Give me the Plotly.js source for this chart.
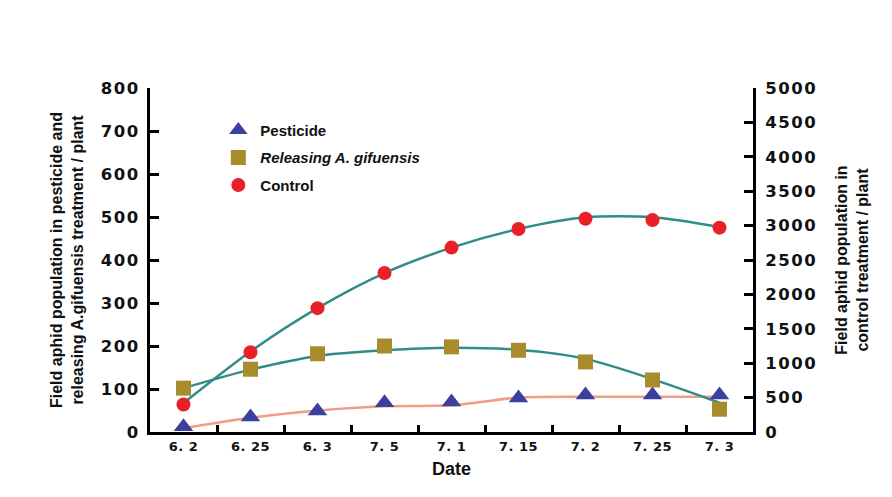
<!DOCTYPE html>
<html><head><meta charset="utf-8">
<script src="https://cdn.plot.ly/plotly-3.0.1.min.js"></script>
<style>
html,body{margin:0;padding:0;background:#fff}
#chart{width:892px;height:497px}
.yaxislayer-above text, .overaxes-above text{letter-spacing:1.5px}
.xaxislayer-above text{letter-spacing:0.5px}
</style>
</head><body><div id="chart"></div>
<script>
const dates = ["6. 2","6. 25","6. 3","7. 5","7. 1","7. 15","7. 2","7. 25","7. 3"];
// marker values
const pesticide = [12, 35, 49, 68, 70, 79, 86, 86, 86];
const releasing = [102, 146, 182, 200, 198, 190, 163, 121, 53];
const control = [400, 1160, 1800, 2310, 2680, 2950, 3100, 3080, 2970];
// fitted curve values
const pesticideCurve = [9, 33, 50, 60, 62, 80, 82, 82, 82];
const releasingCurve = [102, 145, 177, 190, 196, 191, 170, 123, 68];
const controlCurve = [420, 1170, 1800, 2310, 2680, 2950, 3120, 3120, 2980];

const tealLine = '#2f8d86';
const traces = [
  {x: dates, y: pesticideCurve, mode: 'lines', line: {color: '#f19c84', width: 2.5, shape: 'spline', smoothing: 0.8}, showlegend: false, hoverinfo: 'skip'},
  {x: dates, y: releasingCurve, mode: 'lines', line: {color: tealLine, width: 2.5, shape: 'spline', smoothing: 0.8}, showlegend: false, hoverinfo: 'skip'},
  {x: dates, y: controlCurve, yaxis: 'y2', mode: 'lines', line: {color: tealLine, width: 2.5, shape: 'spline', smoothing: 0.8}, showlegend: false, hoverinfo: 'skip'},
  {x: dates, y: pesticide, name: 'Pesticide', legendgroup: 'a', mode: 'markers', marker: {symbol: 'triangle-up', size: 17, color: '#3b3f9e'}},
  {x: dates, y: releasing, name: '<i>Releasing A. gifuensis</i>', legendgroup: 'b', mode: 'markers', marker: {symbol: 'square', size: 15, color: '#a88c2c'}},
  {x: dates, y: control, name: 'Control', legendgroup: 'c', yaxis: 'y2', mode: 'markers', marker: {symbol: 'circle', size: 14, color: '#e8202a'}}
];
const tickFont = {family: 'DejaVu Sans', size: 16.5, color: '#111', weight: 'bold'};
const layout = {
  width: 892, height: 497,
  margin: {l: 150, r: 139, t: 88, b: 65},
  paper_bgcolor: '#fff', plot_bgcolor: '#fff',
  showlegend: true,
  legend: {x: 0.11, y: 0.925, xanchor: 'left', yanchor: 'top', bgcolor: 'rgba(0,0,0,0)',
    font: {family: 'Liberation Sans', size: 15, color: '#111', weight: 'bold'}, tracegroupgap: 5, itemsizing: 'trace', itemwidth: 34},
  xaxis: {type: 'category', range: [-0.5, 8.5], showgrid: false, zeroline: false,
    showline: true, linecolor: '#000', linewidth: 3, mirror: false,
    ticks: 'inside', tickson: 'boundaries', ticklen: 7, tickwidth: 3, tickcolor: '#000',
    tickfont: {family: 'DejaVu Sans', size: 13, color: '#111', weight: 'bold'},
    title: {text: 'Date', font: {family: 'Liberation Sans Narrow, Liberation Sans', size: 18, color: '#111', weight: 'bold'}, standoff: 10}},
  yaxis: {range: [0, 800], dtick: 100, showgrid: false, zeroline: false,
    showline: true, linecolor: '#000', linewidth: 3,
    ticks: 'inside', ticklen: 9, tickwidth: 3, tickcolor: '#000', tickfont: tickFont, ticklabelstandoff: 4,
    title: {text: 'Field aphid population in pesticide and<br>releasing A.gifuensis treatment / plant',
      font: {family: 'Liberation Sans', size: 16, color: '#111', weight: 'bold'}, standoff: 18}},
  yaxis2: {range: [0, 5000], dtick: 500, overlaying: 'y', side: 'right', showgrid: false, zeroline: false,
    showline: true, linecolor: '#000', linewidth: 3,
    ticks: 'inside', ticklen: 9, tickwidth: 3, tickcolor: '#000', tickfont: tickFont, ticklabelstandoff: 6,
    title: {text: 'Field aphid population in<br>control treatment / plant',
      font: {family: 'Liberation Sans', size: 16, color: '#111', weight: 'bold'}, standoff: 26}}
};
Plotly.newPlot('chart', traces, layout, {displayModeBar: false, staticPlot: true});
</script></body></html>
